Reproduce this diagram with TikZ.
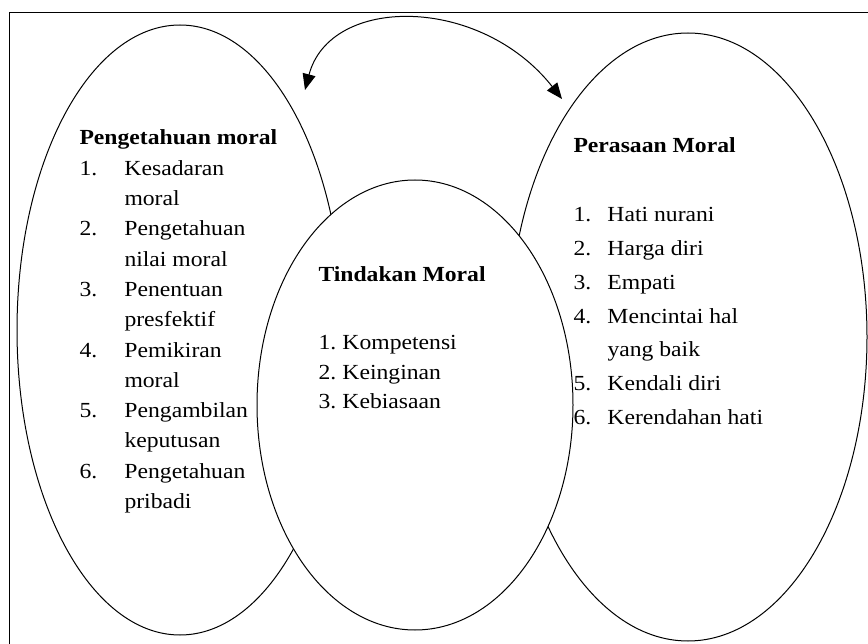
\documentclass[tikz,border=0pt]{standalone}
\usepackage{fontspec}
\setmainfont{Liberation Serif}[FakeStretch=1.1]
\usetikzlibrary{arrows.meta,shapes.geometric,positioning}

\begin{document}
\begin{tikzpicture}[
    x = 1pt, y = -1pt, % one unit = one pixel, y downwards
    line width = 1pt,
    font = \fontsize{21.5}{30.3}\selectfont
    ]

    \tikzset{lingkaran/.style={
    ellipse,
    draw = black,
    fill = white,
    inner sep = 0pt
    },
    daftar/.style={
    anchor = base west,
    inner sep = 0pt
    }}
    \clip (0,0) rectangle (868,644);
    \draw[line width = 1.4pt] (9.5,12.5) rectangle (900,700);

    \node[lingkaran, minimum width = 326pt, minimum height = 610pt] (kiri) at (180,330) {};
    \node[lingkaran, minimum width = 358pt, minimum height = 608pt] (kanan) at (688,337) {};
    \node[lingkaran, minimum width = 316pt, minimum height = 450pt] (tengah) at (415,405) {};

    \coordinate (ujungkiri) at (305,90);
    \coordinate (ujungkanan) at (562,99);
    \draw[{Triangle[length=16pt,width=13pt]}-{Triangle[length=16pt,width=13pt]}]
      (ujungkiri) .. controls (330,-5) and (480,-5) .. (ujungkanan);

    \node[daftar] (tekskiri) at (79,145) {\begin{tabular}[t]{@{}p{45pt}@{}l@{}}
      \multicolumn{2}{@{}l@{}}{\textbf{Pengetahuan moral}}\\
      1. & Kesadaran\\
         & moral\\
      2. & Pengetahuan\\
         & nilai moral\\
      3. & Penentuan\\
         & presfektif\\
      4. & Pemikiran\\
         & moral\\
      5. & Pengambilan\\
         & keputusan\\
      6. & Pengetahuan\\
         & pribadi
    \end{tabular}};

    \node[daftar, font = \fontsize{21.5}{29.5}\selectfont] (tekstengah) at (318,282) {\begin{tabular}[t]{@{}p{24pt}@{}l@{}}
      \multicolumn{2}{@{}l@{}}{\textbf{Tindakan Moral}}\\[38.5pt]
      1. & Kompetensi\\
      2. & Keinginan\\
      3. & Kebiasaan
    \end{tabular}};

    \node[daftar, font = \fontsize{21.5}{33.7}\selectfont] (tekskanan) at (573,153) {\begin{tabular}[t]{@{}p{34pt}@{}l@{}}
      \multicolumn{2}{@{}l@{}}{\textbf{Perasaan Moral}}\\[35.3pt]
      1. & Hati nurani\\
      2. & Harga diri\\
      3. & Empati\\
      4. & Mencintai hal\\
         & yang baik\\
      5. & Kendali diri\\
      6. & Kerendahan hati
    \end{tabular}};
\end{tikzpicture}
\end{document}
